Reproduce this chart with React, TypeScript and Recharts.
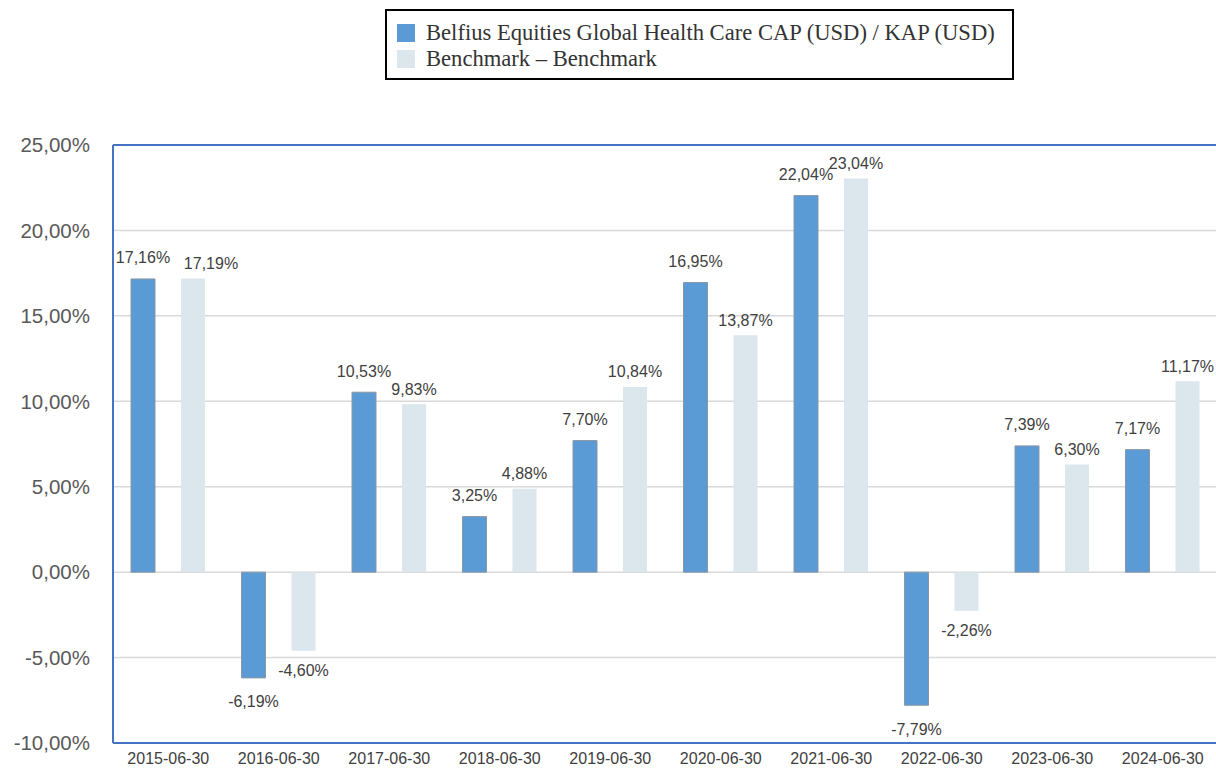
import React from "react";
import {
  BarChart,
  Bar,
  XAxis,
  YAxis,
  CartesianGrid,
  ReferenceLine,
  LabelList,
  Legend,
} from "recharts";

const categories = [
  "2015-06-30",
  "2016-06-30",
  "2017-06-30",
  "2018-06-30",
  "2019-06-30",
  "2020-06-30",
  "2021-06-30",
  "2022-06-30",
  "2023-06-30",
  "2024-06-30",
];
const fundValues = [17.16, -6.19, 10.53, 3.25, 7.7, 16.95, 22.04, -7.79, 7.39, 7.17];
const benchmarkValues = [17.19, -4.6, 9.83, 4.88, 10.84, 13.87, 23.04, -2.26, 6.3, 11.17];
const yTicks = [-10, -5, 0, 5, 10, 15, 20, 25];
const fundName = "Belfius Equities Global Health Care CAP (USD) / KAP (USD)";
const benchName = "Benchmark \u2013 Benchmark";

const data = categories.map((c, i) => ({
  date: c,
  fund: fundValues[i],
  bench: benchmarkValues[i],
}));

const fmt = (v: number) => v.toFixed(2).replace(".", ",") + "%";

const makeLabel = (isBench: boolean) => (props: any) => {
  const { x, y, width, height, value, index } = props;
  const top = Math.min(y, y + height);
  const bottom = Math.max(y, y + height);
  let cx = x + width / 2;
  const ty = value >= 0 ? top - (isBench ? 15 : 21) : bottom + (isBench ? 20 : 24);
  // nudge benchmark label right when it would collide with the fund label
  if (isBench && value >= 0 && Math.abs(fundValues[index] - value) < 0.5) {
    cx += 18;
  }
  return (
    <text
      x={cx}
      y={ty}
      textAnchor="middle"
      dominantBaseline="central"
      fontFamily="'Liberation Sans', Arial, sans-serif"
      fontSize={16}
      fill="#404040"
    >
      {fmt(value)}
    </text>
  );
};

const FundLabel = makeLabel(false);
const BenchLabel = makeLabel(true);

const LegendContent = () => (
  <div
    style={{
      boxSizing: "border-box",
      width: 629,
      height: 71,
      border: "2px solid #000",
      background: "#fff",
      padding: "9px 0 0 10px",
      fontFamily: "'Liberation Serif', 'Times New Roman', serif",
      fontSize: 22.6,
      color: "#333",
      lineHeight: "26px",
    }}
  >
    {[
      { name: fundName, color: "#5B9BD5" },
      { name: benchName, color: "#DCE6ED" },
    ].map((it) => (
      <div key={it.name} style={{ display: "flex", alignItems: "center", height: 26 }}>
        <span
          style={{
            display: "inline-block",
            width: 18,
            height: 18,
            background: it.color,
            marginRight: 11,
          }}
        />
        <span>{it.name}</span>
      </div>
    ))}
  </div>
);

export default function App() {
  return (
    <div style={{ width: 1216, height: 771, overflow: "hidden", position: "relative", background: "#fff" }}>
      <style>{"body{margin:0;}"}</style>
      <BarChart
        width={1232}
        height={771}
        data={data}
        margin={{ top: 145, right: 14, bottom: 0, left: 0 }}
        barSize={24}
        barGap={26}
      >
        <CartesianGrid vertical={false} stroke="#D9D9D9" strokeWidth={1.5} />
        <XAxis
          dataKey="date"
          height={28}
          axisLine={{ stroke: "#4472C4", strokeWidth: 2 }}
          tickLine={false}
          tickMargin={4}
          tick={{ fontFamily: "'Liberation Sans', Arial, sans-serif", fontSize: 16, fill: "#404040" }}
          interval={0}
        />
        <YAxis
          width={113}
          domain={[-10, 25]}
          ticks={yTicks}
          allowDataOverflow
          axisLine={{ stroke: "#4472C4", strokeWidth: 2 }}
          tickLine={false}
          tickMargin={17}
          tickFormatter={fmt}
          tick={{ fontFamily: "'Liberation Sans', Arial, sans-serif", fontSize: 20.5, fill: "#595959" }}
        />
        <ReferenceLine y={25} stroke="#4472C4" strokeWidth={2} ifOverflow="visible" />
        <Legend
          layout="horizontal"
          verticalAlign="middle"
          align="center"
          content={<LegendContent />}
          wrapperStyle={{ position: "absolute", top: 9, left: 385, width: 629, height: 71 }}
        />
        <Bar
          dataKey="fund"
          name={fundName}
          fill="#5B9BD5"
          stroke="#8A96A3"
          strokeWidth={1}
          isAnimationActive={false}
        >
          <LabelList dataKey="fund" content={<FundLabel />} />
        </Bar>
        <Bar dataKey="bench" name={benchName} fill="#DCE6ED" isAnimationActive={false}>
          <LabelList dataKey="bench" content={<BenchLabel />} />
        </Bar>
      </BarChart>
    </div>
  );
}
